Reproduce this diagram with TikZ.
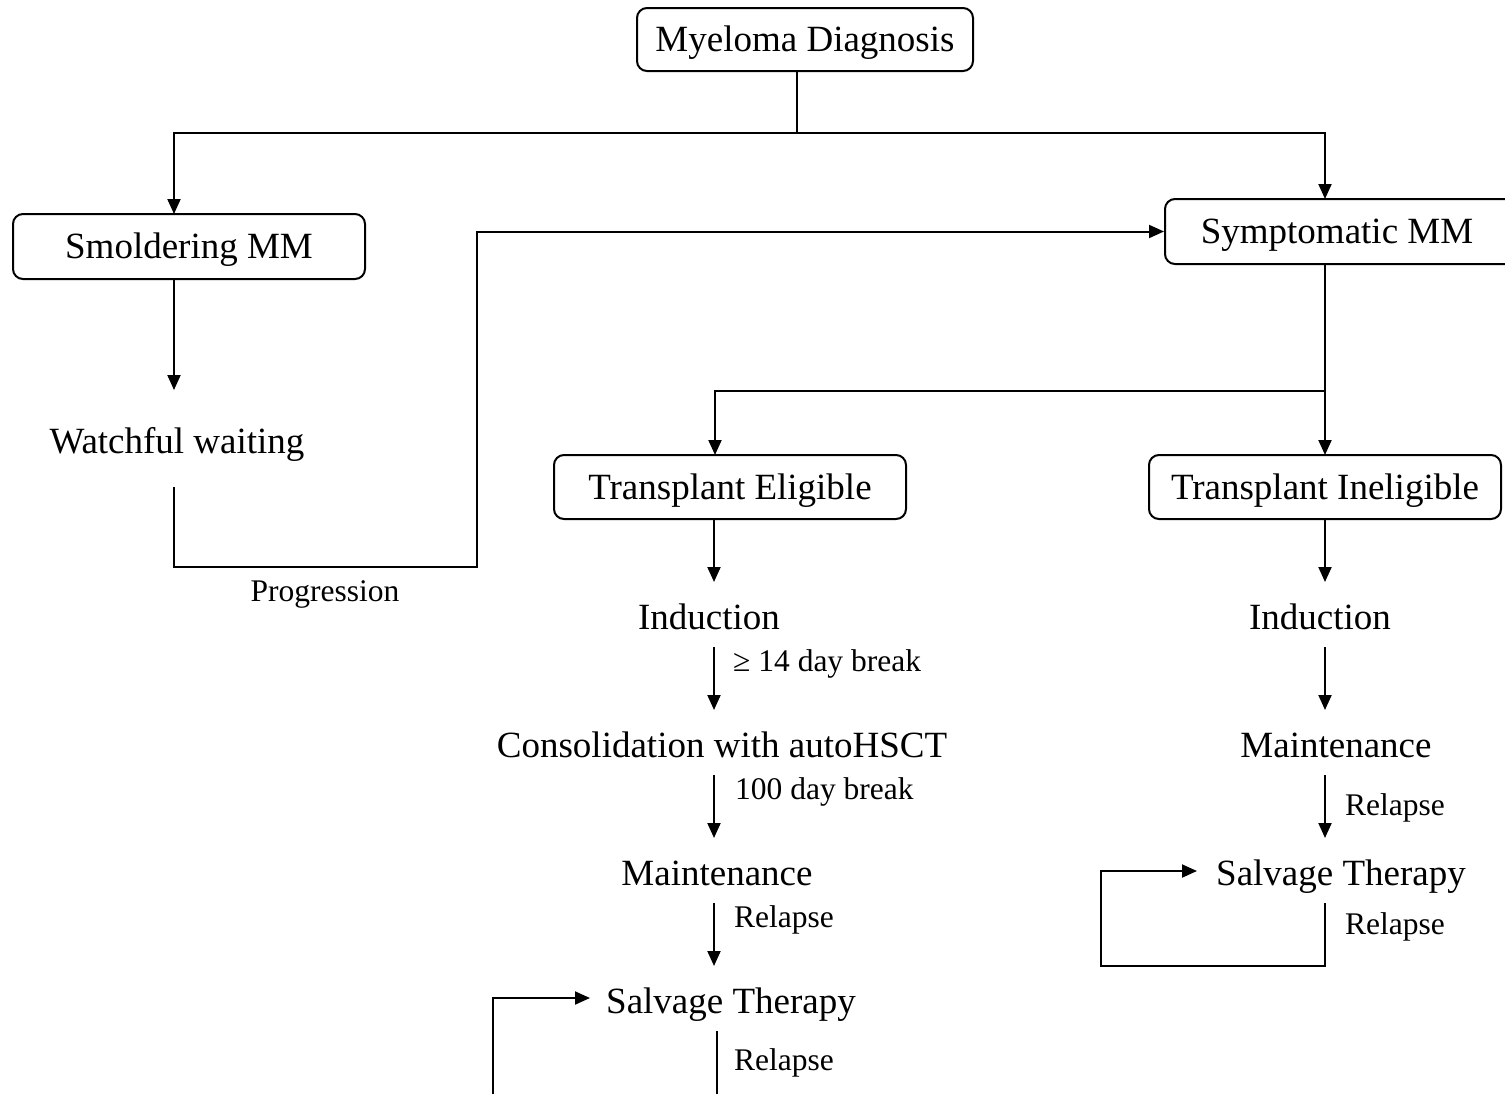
\documentclass[tikz,border=0pt]{standalone}
\usepackage{fontspec}
\setmainfont{Liberation Serif}
\usetikzlibrary{arrows.meta}
\tikzset{
  conn/.style={line width=2pt, line cap=rect},
  arr/.style={conn, -{Triangle[length=15pt,width=13pt]}},
  boxnode/.style={draw, line width=2pt, rounded corners=10pt, inner sep=0pt,
    font=\fontsize{37}{44}\selectfont, text height=24pt, text depth=0pt},
  bigtxt/.style={inner sep=0pt, font=\fontsize{37}{44}\selectfont, text height=24pt, text depth=0pt},
  smalltxt/.style={inner sep=0pt, anchor=west, font=\fontsize{31.5}{38}\selectfont, text height=21pt, text depth=0pt}
}
\begin{document}
\begin{tikzpicture}[x=1pt,y=1pt]
\useasboundingbox (0,0) rectangle (1505,-1093);
% boxes
\node[boxnode, minimum width=336pt, minimum height=63pt] (md) at (805,-39.5) {Myeloma Diagnosis};
\node[boxnode, minimum width=352pt, minimum height=65pt] (sm) at (189,-246.5) {Smoldering MM};
\node[boxnode, minimum width=380pt, minimum height=65pt] (sy) at (1355,-231.5) {};
\node[bigtxt] (syt) at (1337,-231.5) {Symptomatic MM};
\node[boxnode, minimum width=352pt, minimum height=64pt] (te) at (730,-487) {Transplant Eligible};
\node[boxnode, minimum width=352pt, minimum height=64pt] (ti) at (1325,-487) {Transplant Ineligible};
% free texts
\node[bigtxt] (ww) at (177,-441) {Watchful waiting};
\node[bigtxt] (ind1) at (709,-617) {Induction};
\node[bigtxt] (cons) at (722,-745) {Consolidation with autoHSCT};
\node[bigtxt] (main1) at (717,-873) {Maintenance};
\node[bigtxt] (salv1) at (731,-1001) {Salvage Therapy};
\node[bigtxt] (ind2) at (1320,-617) {Induction};
\node[bigtxt] (main2) at (1336,-745) {Maintenance};
\node[bigtxt] (salv2) at (1341,-873) {Salvage Therapy};
% labels
\node[smalltxt, anchor=center] (prog) at (325,-591) {Progression};
\node[smalltxt] (l14) at (733,-661) {≥ 14 day break};
\node[smalltxt] (l100) at (735,-789) {100 day break};
\node[smalltxt] (r1) at (734,-917) {Relapse};
\node[smalltxt] (r2) at (734,-1060) {Relapse};
\node[smalltxt] (r3) at (1345,-805) {Relapse};
\node[smalltxt] (r4) at (1345,-924) {Relapse};
% coordinates
\coordinate (jtop) at (797,-133);
\coordinate (smin) at (174,-214);
\coordinate (syin) at (1325,-199);
\coordinate (smout) at (174,-279);
\coordinate (wwin) at (174,-390);
\coordinate (wwout) at (174,-488);
\coordinate (pc) at (477,-567);
\coordinate (syout) at (1325,-264);
\coordinate (jb) at (1325,-391);
\coordinate (teIn) at (715,-455);
\coordinate (tiIn) at (1325,-455);
\coordinate (teOut) at (714,-519);
\coordinate (ind1In) at (714,-582);
\coordinate (ind1Out) at (714,-648);
\coordinate (consIn) at (714,-710);
\coordinate (consOut) at (714,-776);
\coordinate (main1In) at (714,-838);
\coordinate (main1Out) at (714,-904);
\coordinate (salv1In) at (714,-966);
\coordinate (salv1Out) at (717,-1032);
\coordinate (salv1End) at (717,-1100);
\coordinate (loop1Bot) at (493,-1100);
\coordinate (loop1Tip) at (590,-998);
\coordinate (tiOut) at (1325,-519);
\coordinate (ind2In) at (1325,-582);
\coordinate (ind2Out) at (1325,-648);
\coordinate (main2In) at (1325,-710);
\coordinate (main2Out) at (1325,-776);
\coordinate (salv2In) at (1325,-838);
\coordinate (salv2Out) at (1325,-904);
\coordinate (loop2Corner) at (1101,-966);
\coordinate (loop2Tip) at (1197,-871);
% connectors
\draw[conn] (md.south -| jtop) -- (jtop);
\draw[arr] (jtop) -| (smin);
\draw[arr] (jtop) -| (syin);
\draw[arr] (smout) -- (wwin);
\draw[arr] (wwout) |- (pc) |- (sy.west);
\draw[arr] (syout) -- (tiIn);
\draw[arr] (jb) -| (teIn);
\draw[arr] (teOut) -- (ind1In);
\draw[arr] (ind1Out) -- (consIn);
\draw[arr] (consOut) -- (main1In);
\draw[arr] (main1Out) -- (salv1In);
\draw[conn] (salv1Out) -- (salv1End);
\draw[arr] (loop1Bot) |- (loop1Tip);
\draw[arr] (tiOut) -- (ind2In);
\draw[arr] (ind2Out) -- (main2In);
\draw[arr] (main2Out) -- (salv2In);
\draw[arr] (salv2Out) |- (loop2Corner) |- (loop2Tip);
\end{tikzpicture}
\end{document}
